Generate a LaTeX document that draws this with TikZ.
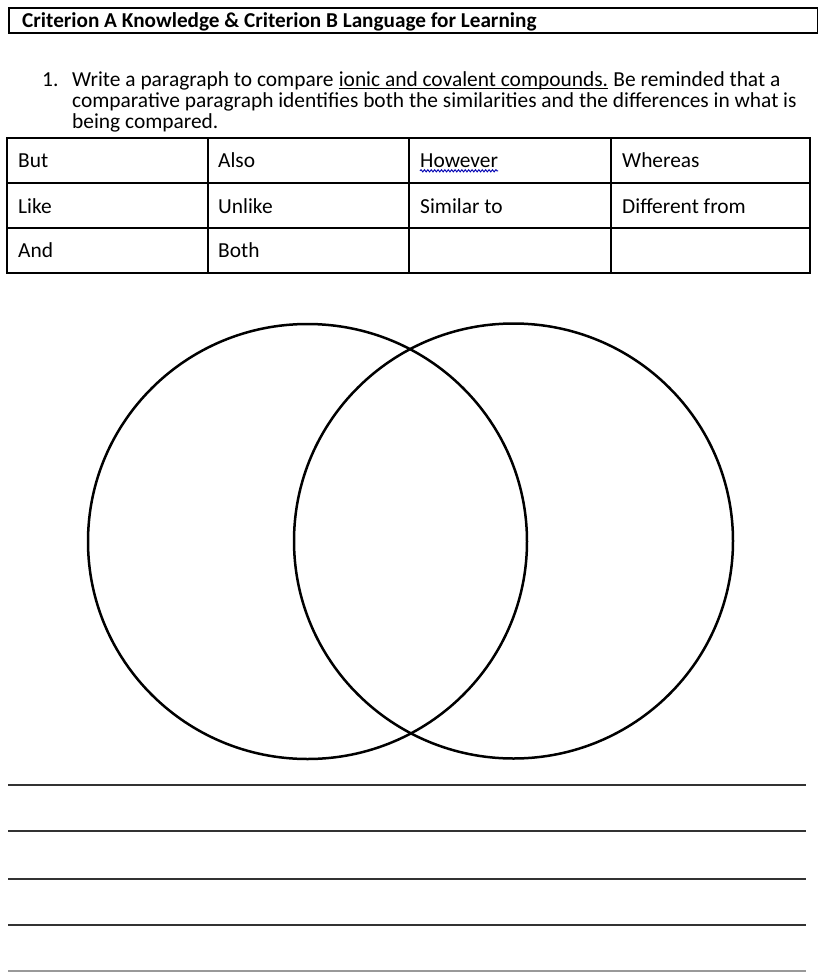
\documentclass[tikz,border=0pt]{standalone}
\usepackage{fontspec}
\setmainfont{Carlito}
\usetikzlibrary{decorations.pathmorphing}
\tikzset{
  txt/.style={anchor=base west, inner sep=0pt, font=\fontsize{21.4}{24}\selectfont},
  hdr/.style={anchor=base west, inner sep=0pt, font=\fontsize{21.2}{24}\selectfont\bfseries},
  grid/.style={line width=1.6pt, black},
  ring/.style={line width=2.5pt, black},
  rule/.style={line width=2.2pt, black!80},
  lastrule/.style={line width=1.2pt, black!40},
  uline/.style={line width=1pt, black},
  spell/.style={draw=blue!70!black, line width=0.9pt, decorate, decoration={snake, segment length=3.4pt, amplitude=1.1pt}}
}
\begin{document}
\begin{tikzpicture}[x=1pt, y=-1pt]
\useasboundingbox (0,0) rectangle (817,972);
% header box
\draw[line width=1.6pt] (9,8) rectangle (818,33);
\draw[line width=2.6pt] (9,8) -- (9,33);
\node[hdr] (head) at (22,27) {Criterion A Knowledge \& Criterion B Language for Learning};
% instruction
\node[txt] (num) at (42,86) {1.};
\node[txt] (p1a) at (72,86) {Write a paragraph to compare\hspace*{0.226em}};
\node[txt] (p1b) at (p1a.base east) {ionic and covalent compounds.};
\node[txt] (p1c) at (p1b.base east) {\hspace*{0.226em}Be reminded that a};
\draw[uline] ([yshift=-2.4pt]p1b.base west) -- ([yshift=-2.4pt]p1b.base east);
\node[txt] (p2) at (72,107) {comparative paragraph identifies both the similarities and the differences in what is};
\node[txt] (p3) at (72,128) {being compared.};
% table
\draw[grid] (7,138) rectangle (810,273);
\foreach \yy in {183,228} \draw[grid] (7,\yy) -- (810,\yy);
\foreach \xx in {208,409,611} \draw[grid] (\xx,138) -- (\xx,273);
\node[txt] (c11) at (18,167) {But};
\node[txt] (c12) at (218,167) {Also};
\node[txt] (c13) at (420,167) {However};
\node[txt] (c14) at (622,167) {Whereas};
\node[txt] (c21) at (18,213) {Like};
\node[txt] (c22) at (218,213) {Unlike};
\node[txt] (c23) at (420,213) {Similar to};
\node[txt] (c24) at (622,213) {Different from};
\node[txt] (c31) at (18,257) {And};
\node[txt] (c32) at (218,257) {Both};
\draw[spell] ([yshift=-3.8pt]c13.base west) -- ([yshift=-3.8pt]c13.base east);
% venn
\draw[ring] (307.5,541.5) ellipse [x radius=219.5, y radius=217.5];
\draw[ring] (513.5,541) ellipse [x radius=219.5, y radius=217.5];
% writing lines
\foreach \yy in {785,831,879,925} \draw[rule] (8,\yy) -- (806,\yy);
\draw[lastrule] (8,971) -- (806,971);
\end{tikzpicture}
\end{document}
